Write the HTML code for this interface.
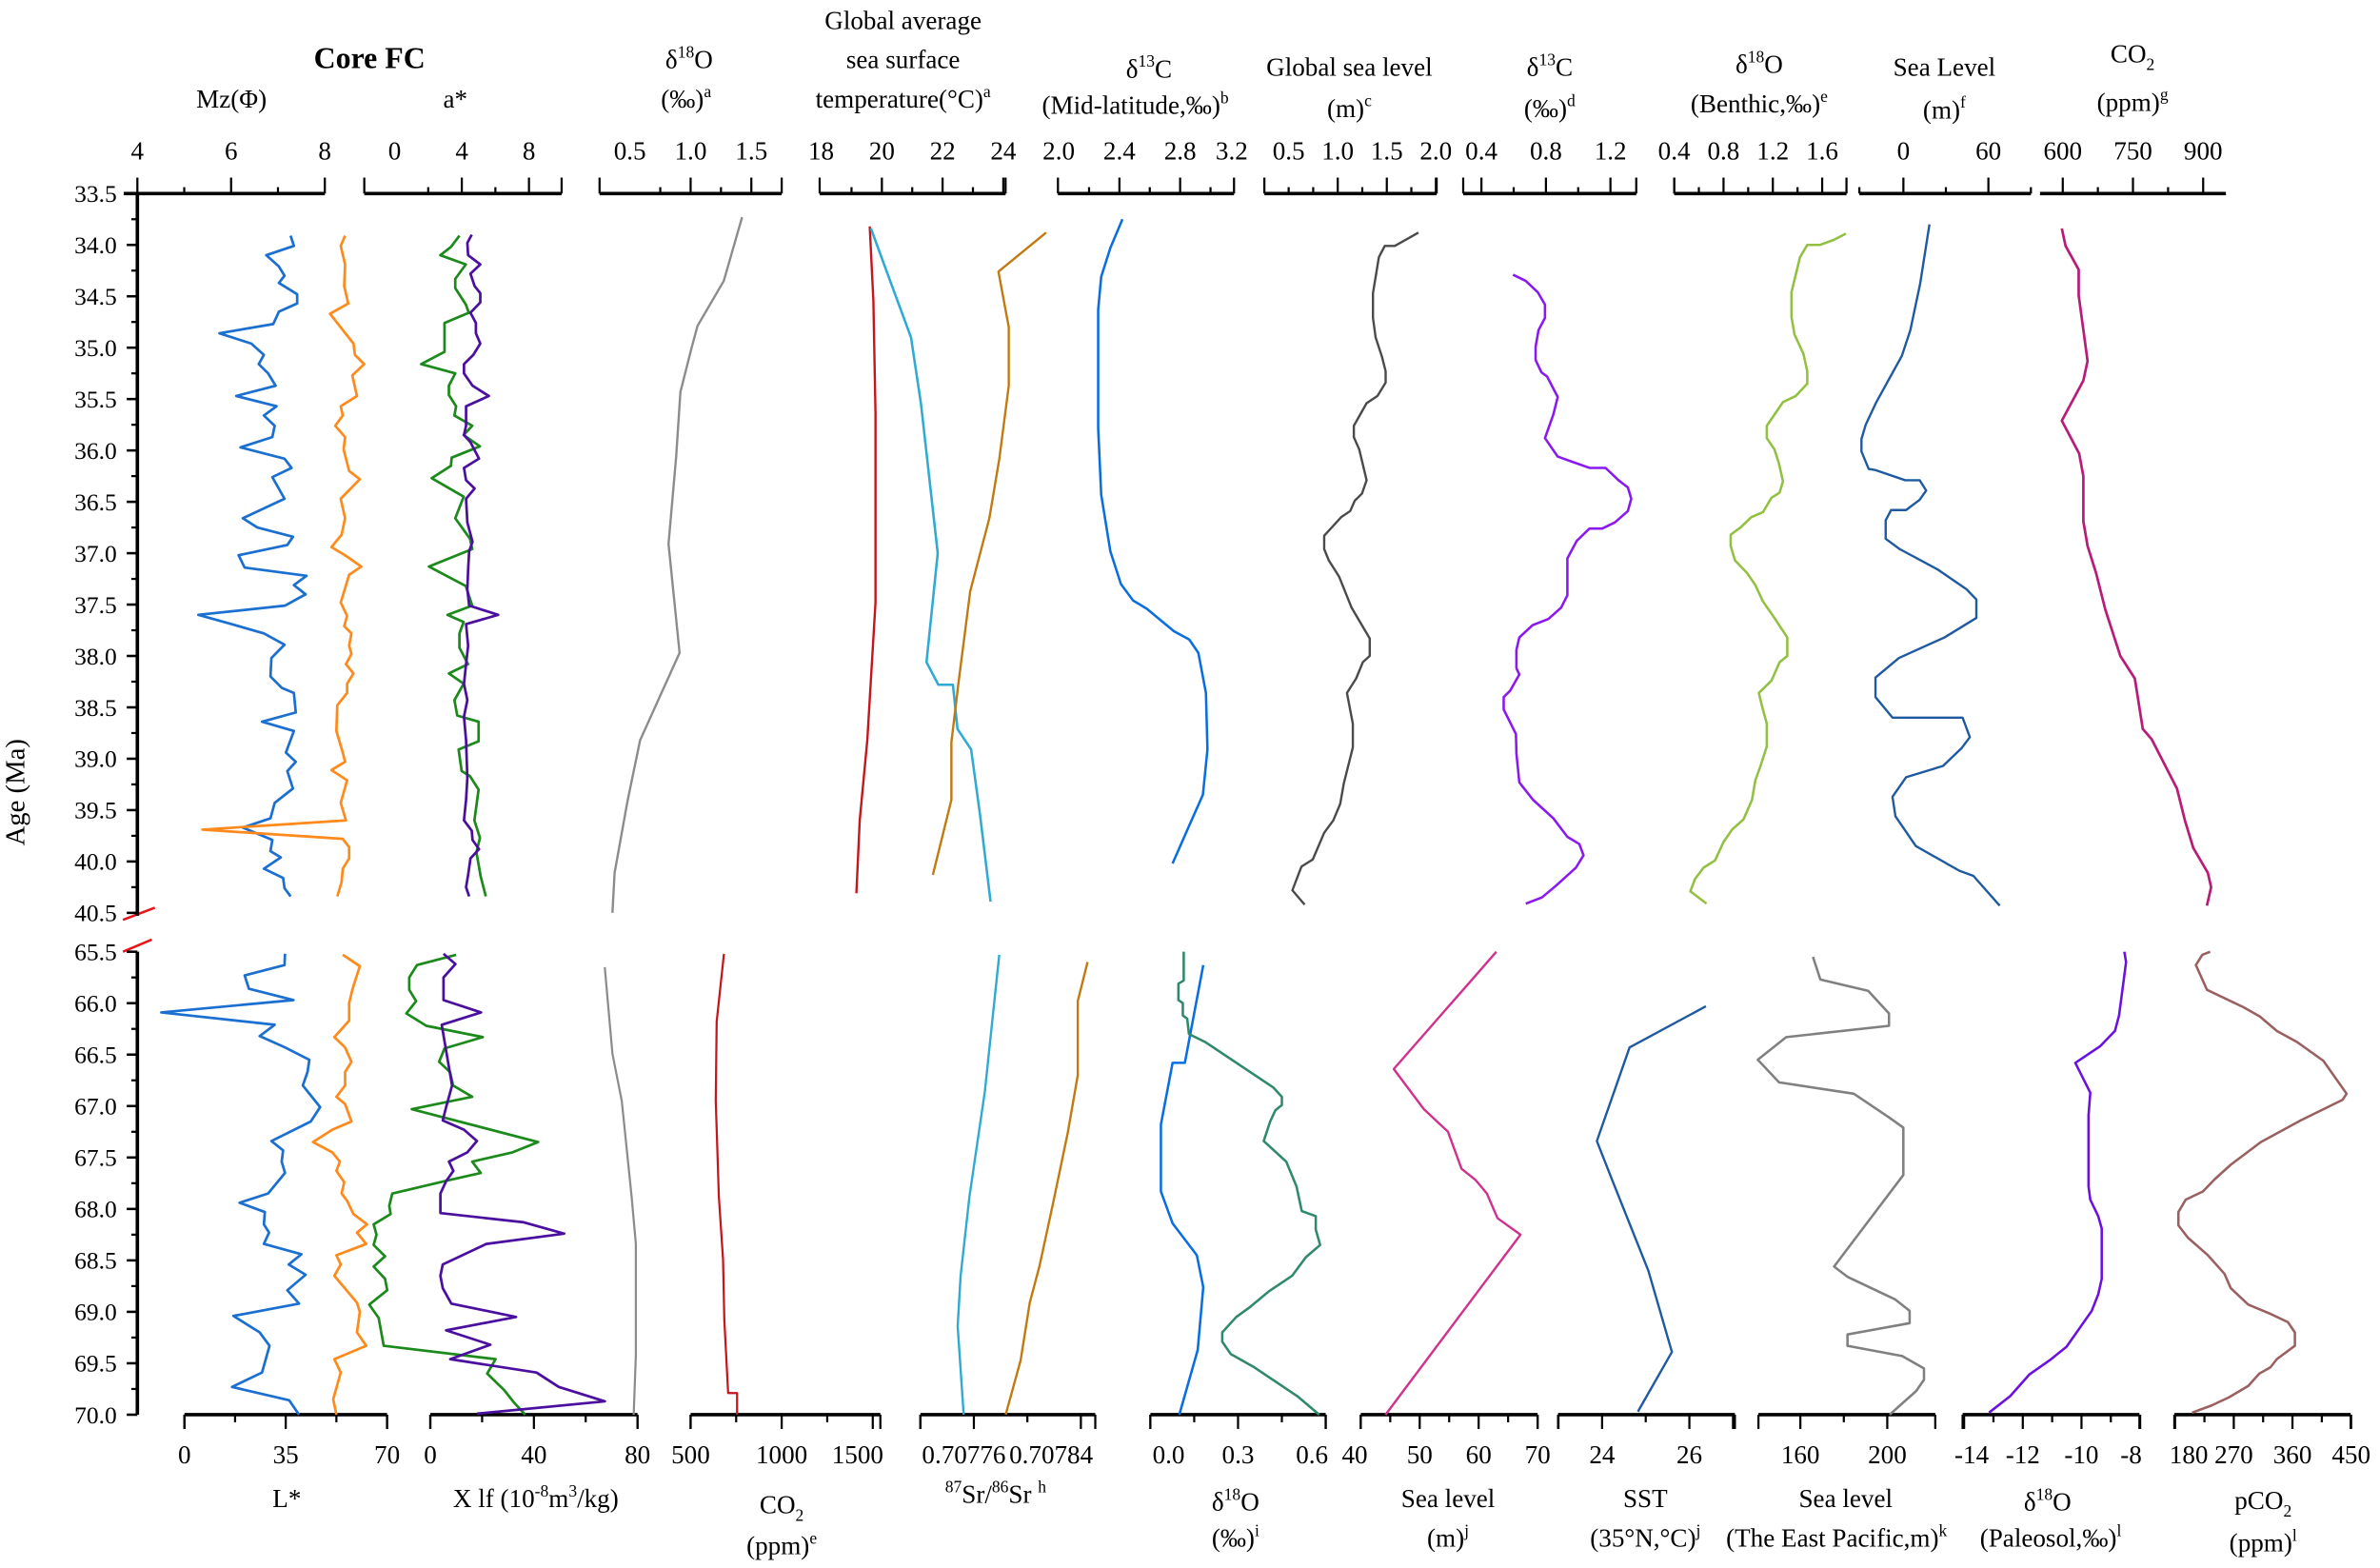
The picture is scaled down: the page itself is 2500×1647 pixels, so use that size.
<!DOCTYPE html>
<html><head><meta charset="utf-8"><title>Core FC multi-proxy chart</title>
<style>
html,body{margin:0;padding:0;background:#fff;}
svg{display:block;}
text{font-family:"Liberation Serif",serif;fill:#000;}
</style></head>
<body>
<svg id="chart" xmlns="http://www.w3.org/2000/svg" width="2500" height="1647" viewBox="0 0 1568 1033">
<rect x="0" y="0" width="1568" height="1033" fill="#fff"/>
<g id="titles" font-size="17" text-anchor="middle">
  <text x="243.5" y="45" font-size="20" font-weight="bold">Core FC</text>
  <text x="152.5" y="71">Mz(Φ)</text>
  <text x="300" y="71">a*</text>
  <text x="454" y="45">δ<tspan font-size="11" dy="-7">18</tspan><tspan dy="7">O</tspan></text>
  <text x="452" y="71">(‰)<tspan font-size="11" dy="-7">a</tspan></text>
  <text x="595" y="19">Global average</text>
  <text x="595" y="45">sea surface</text>
  <text x="595" y="71">temperature(°C)<tspan font-size="11" dy="-7">a</tspan></text>
  <text x="757" y="51">δ<tspan font-size="11" dy="-7">13</tspan><tspan dy="7">C</tspan></text>
  <text x="748" y="75">(Mid-latitude,‰)<tspan font-size="11" dy="-7">b</tspan></text>
  <text x="889" y="50">Global sea level</text>
  <text x="889" y="77">(m)<tspan font-size="11" dy="-7">c</tspan></text>
  <text x="1021" y="50">δ<tspan font-size="11" dy="-7">13</tspan><tspan dy="7">C</tspan></text>
  <text x="1021" y="77">(‰)<tspan font-size="11" dy="-7">d</tspan></text>
  <text x="1159" y="48">δ<tspan font-size="11" dy="-7">18</tspan><tspan dy="7">O</tspan></text>
  <text x="1159" y="74">(Benthic,‰)<tspan font-size="11" dy="-7">e</tspan></text>
  <text x="1281" y="50">Sea Level</text>
  <text x="1281" y="78">(m)<tspan font-size="11" dy="-7">f</tspan></text>
  <text x="1405" y="41">CO<tspan font-size="11" dy="5">2</tspan></text>
  <text x="1405" y="73">(ppm)<tspan font-size="11" dy="-7">g</tspan></text>

  <text x="189" y="993">L*</text>
  <text x="353" y="993">X lf (10<tspan font-size="11" dy="-7">-8</tspan><tspan dy="7">m</tspan><tspan font-size="11" dy="-7">3</tspan><tspan dy="7">/kg)</tspan></text>
  <text x="515" y="997">CO<tspan font-size="11" dy="5">2</tspan></text>
  <text x="515" y="1024">(ppm)<tspan font-size="11" dy="-7">e</tspan></text>
  <text x="656" y="990"><tspan font-size="11" dy="-7">87</tspan><tspan dy="7">Sr/</tspan><tspan font-size="11" dy="-7">86</tspan><tspan dy="7">Sr </tspan><tspan font-size="11" dy="-7">h</tspan></text>
  <text x="814" y="995">δ<tspan font-size="11" dy="-7">18</tspan><tspan dy="7">O</tspan></text>
  <text x="814" y="1019">(‰)<tspan font-size="11" dy="-7">i</tspan></text>
  <text x="954" y="993">Sea level</text>
  <text x="954" y="1019">(m)<tspan font-size="11" dy="-7">j</tspan></text>
  <text x="1084" y="993">SST</text>
  <text x="1084" y="1019">(35°N,°C)<tspan font-size="11" dy="-7">j</tspan></text>
  <text x="1216" y="993">Sea level</text>
  <text x="1210" y="1019">(The East Pacific,m)<tspan font-size="11" dy="-7">k</tspan></text>
  <text x="1349" y="995">δ<tspan font-size="11" dy="-7">18</tspan><tspan dy="7">O</tspan></text>
  <text x="1351" y="1019">(Paleosol,‰)<tspan font-size="11" dy="-7">l</tspan></text>
  <text x="1491" y="994">pCO<tspan font-size="11" dy="5">2</tspan></text>
  <text x="1491" y="1022">(ppm)<tspan font-size="11" dy="-7">l</tspan></text>
</g>
<text x="0" y="0" font-size="18" text-anchor="middle" transform="translate(16,522) rotate(-90)">Age (Ma)</text>
<line x1="81" y1="606" x2="102" y2="598" stroke="#e8141c" stroke-width="1.6"/>
<line x1="81" y1="627" x2="100" y2="619" stroke="#e8141c" stroke-width="1.6"/>
<g id="axes"></g>
<g id="series"></g>
</svg>
<script>
// ===== upper section data (33.5-40.5 Ma) =====
const mzUAge=[33.91,34.01,34.10,34.21,34.30,34.37,34.48,34.57,34.65,34.77,34.86,34.96,35.07,35.16,35.25,35.37,35.47,35.57,35.66,35.76,35.87,35.97,36.08,36.17,36.26,36.47,36.66,36.75,36.84,36.92,37.02,37.14,37.22,37.31,37.40,37.51,37.60,37.68,37.78,37.89,38.02,38.20,38.31,38.36,38.55,38.64,38.73,38.94,39.03,39.12,39.29,39.43,39.58,39.67,39.79,39.90,39.96,40.07,40.16,40.26,40.34];
const mzUVal=[7.27,7.34,6.75,7.02,7.14,7.02,7.41,7.41,7.02,6.90,5.75,6.43,6.70,6.59,6.79,6.95,6.11,6.97,6.70,6.93,6.88,6.20,7.14,7.29,6.88,7.14,6.25,6.56,7.32,7.20,6.16,6.29,7.61,7.34,7.59,7.15,5.30,5.93,6.70,7.14,6.86,6.84,7.08,7.34,7.38,6.66,7.34,7.17,7.38,7.20,7.32,6.93,6.84,6.25,6.88,6.84,7.06,6.70,7.11,7.14,7.27];
const lsUAge=[33.91,34.01,34.19,34.40,34.57,34.67,34.96,35.07,35.16,35.27,35.47,35.57,35.66,35.76,35.87,35.99,36.20,36.28,36.47,36.66,36.82,36.94,37.02,37.13,37.21,37.48,37.61,37.71,37.78,37.90,37.98,38.08,38.17,38.27,38.36,38.48,38.73,38.94,39.03,39.11,39.21,39.43,39.60,39.69,39.78,39.86,39.97,40.07,40.20,40.34];
const lsUVal=[55.5,54.0,55.5,55.2,56.6,50.3,58.4,58.9,62.1,58.0,59.6,54.0,54.7,52.1,55.5,55.0,56.9,60.6,54.0,55.5,54.3,50.8,55.5,61.1,56.9,54.0,56.2,55.2,57.7,56.9,57.7,55.8,58.4,56.2,56.2,52.8,52.5,54.7,55.5,50.8,56.2,54.0,55.8,6.2,54.7,56.9,56.9,54.7,54.3,52.8];
const aUAge=[33.91,34.02,34.10,34.19,34.33,34.42,34.58,34.66,34.76,35.04,35.16,35.25,35.37,35.46,35.57,35.66,35.76,35.85,35.96,36.07,36.15,36.27,36.45,36.66,36.86,36.96,37.13,37.32,37.51,37.60,37.67,37.78,37.92,38.08,38.17,38.27,38.43,38.58,38.64,38.83,38.91,39.12,39.17,39.30,39.60,39.77,39.91,40.15,40.34];
const aUVal=[3.86,3.35,2.72,4.24,3.61,3.61,4.24,4.42,2.97,2.97,1.58,3.61,3.23,3.23,3.66,3.56,4.62,4.11,5.08,3.40,3.35,2.21,4.11,3.61,4.49,4.62,2.04,4.24,4.62,3.15,4.11,3.86,3.86,4.37,3.23,4.11,3.56,3.73,5.00,5.00,3.81,3.99,4.49,5.00,4.75,5.08,4.87,5.13,5.43];
const xUAge=[33.90,33.98,34.10,34.19,34.28,34.40,34.47,34.56,34.66,34.76,34.86,34.96,35.07,35.16,35.25,35.37,35.47,35.57,35.76,35.85,35.92,36.08,36.17,36.29,36.37,36.47,36.70,36.89,36.98,37.16,37.35,37.51,37.60,37.69,37.90,38.08,38.27,38.43,38.59,38.82,39.19,39.40,39.60,39.70,39.79,39.88,39.97,40.13,40.25,40.34];
const xUVal=[16.0,14.3,14.6,19.3,15.5,17.1,19.3,19.3,15.5,17.6,17.6,19.3,16.6,13.0,13.0,16.3,22.6,13.8,13.8,13.0,15.5,18.8,13.0,13.8,17.1,13.8,14.3,16.3,15.0,14.6,14.3,15.0,26.2,13.8,14.6,13.8,13.0,14.3,13.0,13.8,14.3,13.8,13.0,16.0,16.3,18.8,15.5,14.6,13.8,15.0];
const d18oAAge=[33.73,34.35,34.79,35.02,35.43,36.06,36.91,37.97,38.82,39.42,40.11,40.50];
const d18oAVal=[1.424,1.273,1.056,1.004,0.916,0.881,0.818,0.909,0.584,0.479,0.374,0.356];
const sstRedAge=[33.82,34.54,35.64,37.48,38.82,39.60,40.31];
const sstRedVal=[19.60,19.72,19.79,19.79,19.52,19.27,19.16];
const sstCyanAge=[33.84,34.26,34.90,35.55,37.00,38.06,38.28,38.28,38.71,38.91,39.56,40.39];
const sstCyanVal=[19.64,20.16,20.96,21.29,21.84,21.47,21.86,22.34,22.49,22.94,23.24,23.58];
const sstBrownAge=[33.88,34.26,34.80,35.37,36.08,36.66,37.37,38.27,38.84,39.40,40.13];
const sstBrownVal=[25.41,23.84,24.18,24.18,23.87,23.54,22.91,22.52,22.29,22.29,21.68];
const d13cBAge=[33.75,34.03,34.31,34.63,35.78,36.43,36.98,37.30,37.46,37.54,37.76,37.84,37.97,38.36,38.91,39.35,39.65,40.02];
const d13cBVal=[2.42,2.34,2.28,2.26,2.26,2.28,2.34,2.41,2.49,2.58,2.76,2.86,2.92,2.97,2.98,2.95,2.86,2.75];
const gslAge=[33.88,33.94,34.01,34.01,34.12,34.47,34.71,34.90,35.09,35.23,35.34,35.47,35.54,35.76,35.87,35.99,36.29,36.42,36.49,36.59,36.65,36.83,36.96,37.07,37.23,37.53,37.83,38.00,38.06,38.22,38.36,38.66,38.89,39.24,39.44,39.60,39.72,39.98,40.05,40.28,40.42];
const gslVal=[1.822,1.711,1.581,1.479,1.419,1.359,1.359,1.386,1.451,1.488,1.488,1.405,1.294,1.164,1.164,1.219,1.294,1.247,1.173,1.127,1.034,0.862,0.862,0.909,1.015,1.141,1.326,1.326,1.256,1.187,1.094,1.154,1.154,1.062,1.025,0.955,0.862,0.746,0.630,0.538,0.663];
const d13cDAge=[34.29,34.35,34.46,34.58,34.71,34.83,34.99,35.12,35.24,35.28,35.48,35.65,35.88,36.06,36.17,36.17,36.29,36.36,36.47,36.59,36.70,36.76,36.76,36.88,37.05,37.41,37.53,37.64,37.70,37.82,37.94,38.12,38.18,38.34,38.40,38.52,38.76,38.95,39.23,39.40,39.58,39.76,39.83,39.94,40.06,40.24,40.35,40.41];
const d13cDVal=[0.596,0.675,0.749,0.794,0.794,0.754,0.736,0.736,0.772,0.807,0.873,0.846,0.794,0.873,1.070,1.170,1.250,1.308,1.329,1.308,1.228,1.149,1.070,0.991,0.933,0.933,0.894,0.815,0.717,0.635,0.617,0.617,0.635,0.577,0.538,0.538,0.614,0.617,0.635,0.720,0.846,0.933,1.007,1.033,0.986,0.859,0.775,0.675];
const bentAge=[33.89,33.95,34.00,34.00,34.12,34.46,34.70,34.87,35.06,35.23,35.35,35.47,35.53,35.76,35.88,35.99,36.12,36.30,36.41,36.46,36.60,36.65,36.75,36.82,36.93,37.07,37.19,37.31,37.47,37.60,37.82,38.00,38.06,38.24,38.36,38.51,38.66,38.88,39.07,39.21,39.40,39.59,39.69,39.81,39.99,40.06,40.17,40.29,40.41];
const bentVal=[1.792,1.696,1.582,1.479,1.420,1.351,1.351,1.375,1.448,1.479,1.479,1.386,1.282,1.151,1.151,1.213,1.248,1.282,1.255,1.189,1.120,1.024,0.938,0.858,0.858,0.893,0.989,1.058,1.120,1.196,1.317,1.317,1.255,1.189,1.086,1.117,1.151,1.151,1.100,1.058,1.031,0.962,0.869,0.800,0.731,0.638,0.569,0.531,0.662];
const slFAge=[33.80,34.38,34.83,35.08,35.53,35.75,35.89,36.01,36.18,36.19,36.29,36.29,36.39,36.48,36.58,36.58,36.68,36.86,36.96,37.16,37.35,37.45,37.63,37.82,38.02,38.21,38.40,38.60,38.60,38.79,38.90,39.07,39.18,39.37,39.56,39.85,40.09,40.14,40.43];
const slFVal=[18.4,11.8,4.9,-1.1,-19.1,-26.6,-29.6,-29.6,-24.5,-20.0,1.3,11.5,16.1,11.5,1.9,-8.7,-12.5,-12.5,-2.6,24.4,44.5,51.5,51.5,29.0,-3.2,-19.7,-19.7,-7.7,41.8,46.9,40.9,28.0,1.9,-7.7,-5.6,8.8,39.5,49.4,68.0];
const co2GAge=[33.84,34.01,34.24,34.49,35.13,35.32,35.71,36.03,36.25,36.69,36.93,37.19,37.55,38.00,38.22,38.71,38.81,39.29,39.60,39.87,40.11,40.25,40.43];
const co2GVal=[598,606,634,634,653,644,598,635,644,644,653,671,691,723,754,771,790,844,861,879,910,917,908];

// ===== lower section data (65.5-70.0 Ma) =====
const mzLAge=[65.52,65.63,65.73,65.86,65.97,66.09,66.21,66.32,66.43,66.55,66.67,66.80,67.01,67.15,67.34,67.43,67.54,67.65,67.85,67.94,68.03,68.15,68.23,68.34,68.44,68.54,68.64,68.79,68.92,69.04,69.20,69.33,69.59,69.73,69.86,70.0];
const mzLVal=[7.15,7.14,6.29,6.38,7.33,4.51,6.93,6.61,7.15,7.67,7.63,7.53,7.90,7.70,6.86,7.11,7.08,7.15,6.79,6.18,6.72,6.70,6.81,6.70,7.50,7.23,7.59,7.20,7.45,6.05,6.61,6.82,6.66,6.02,7.24,7.45];
const lsLAge=[65.53,65.64,65.86,66.00,66.17,66.33,66.43,66.57,66.67,66.80,66.91,66.98,67.15,67.23,67.35,67.45,67.54,67.63,67.74,67.85,67.92,68.05,68.15,68.23,68.34,68.45,68.54,68.65,68.91,69.00,69.20,69.33,69.46,69.59,69.85,70.0];
const lsLVal=[54.7,60.6,58.1,56.9,56.9,51.8,55.5,57.7,55.5,55.5,52.5,55.5,57.7,51.1,44.4,51.1,53.7,52.5,55.2,54.3,56.2,58.4,63.1,59.6,62.8,52.5,54.0,51.8,59.6,60.6,59.6,62.8,51.8,54.0,51.4,52.5];
const aLAge=[65.53,65.63,65.75,65.87,65.98,66.10,66.22,66.33,66.44,66.57,66.67,66.80,66.91,67.03,67.35,67.45,67.54,67.65,67.73,67.85,67.97,68.05,68.15,68.25,68.35,68.46,68.56,68.68,68.79,68.93,69.06,69.33,69.46,69.60,69.76,69.88,70.0];
const aLVal=[3.66,1.33,0.87,0.87,1.28,0.70,1.89,5.25,2.97,2.65,3.30,3.48,4.62,1.02,8.54,7.02,4.62,5.13,2.97,-0.14,-0.32,-0.24,-1.25,-1.08,-1.25,-0.57,-1.25,-0.57,-0.44,-1.51,-0.95,-0.65,6.01,5.51,6.52,7.10,7.78];
const xLAge=[65.52,65.62,65.75,65.97,66.09,66.21,66.55,66.80,67.01,67.14,67.23,67.34,67.45,67.54,67.63,67.73,67.85,68.04,68.13,68.24,68.34,68.54,68.65,68.77,68.92,69.05,69.18,69.32,69.46,69.59,69.73,69.87,69.99];
const xLVal=[5.1,9.7,5.1,5.1,19.6,4.4,6.7,8.4,6.1,4.8,13.0,18.0,14.3,7.2,8.9,6.1,3.9,3.9,36.1,51.7,21.6,4.8,3.9,4.8,8.1,33.1,6.1,23.2,7.7,41.0,49.6,67.4,18.0];
const d18oALAge=[65.65,66.49,66.95,67.88,68.34,69.42,70.0];
const d18oALVal=[0.293,0.356,0.433,0.514,0.549,0.549,0.531];
const co2EAge=[65.52,66.18,66.95,67.88,68.49,69.08,69.79,69.79,70.0];
const co2EVal=[683,643,638,655,678,685,706,755,755];
const srCyanAge=[65.53,66.86,67.88,68.65,69.14,70.0];
const srCyanVal=[0.7077790,0.7077682,0.7077567,0.7077501,0.7077479,0.7077524];
const srBrownAge=[65.60,65.98,66.70,67.26,67.97,68.56,68.91,69.47,70.0];
const srBrownVal=[0.7078450,0.7078377,0.7078377,0.7078302,0.7078188,0.7078090,0.7078018,0.7077950,0.7077838];
const d18oIBlueAge=[65.63,66.58,66.58,67.18,67.83,68.14,68.45,68.76,69.37,70.0];
const d18oIBlueVal=[0.181,0.118,0.076,0.036,0.036,0.076,0.159,0.181,0.162,0.099];
const d18oIGreenAge=[65.50,65.78,65.81,65.97,66.00,66.12,66.15,66.30,66.38,66.82,66.91,66.99,67.04,67.15,67.34,67.54,67.78,68.02,68.07,68.20,68.35,68.47,68.65,68.80,68.96,69.05,69.20,69.29,69.41,69.54,69.82,70.0];
const d18oIGreenVal=[0.114,0.114,0.096,0.096,0.111,0.111,0.126,0.132,0.189,0.421,0.450,0.450,0.428,0.410,0.388,0.465,0.500,0.518,0.566,0.566,0.581,0.532,0.485,0.406,0.338,0.294,0.246,0.246,0.275,0.356,0.503,0.578];
const slJAge=[65.50,65.73,66.64,67.03,67.25,67.61,67.72,67.85,68.09,68.25,68.83,70.0];
const slJVal=[63.0,59.5,45.6,50.7,54.8,57.1,59.5,61.4,63.2,67.1,59.5,44.2];
const sstJAge=[66.03,66.43,67.34,67.75,68.60,69.39,69.97];
const sstJVal=[26.38,24.63,23.88,24.26,25.06,25.60,24.82];
const slKAge=[65.55,65.77,65.88,66.10,66.22,66.33,66.55,66.77,66.88,67.11,67.21,67.67,68.56,68.66,68.88,68.99,69.11,69.22,69.33,69.43,69.55,69.66,69.77,70.0];
const slKVal=[165.8,169.2,191.2,200.8,200.8,153.5,140.4,150.2,184.6,200.8,207.4,207.4,175.5,181.7,203.7,210.3,210.3,181.7,181.7,206.9,216.9,216.9,213.3,201.1];
const d18oLAge=[65.50,65.60,66.12,66.27,66.42,66.58,66.87,67.09,67.78,67.91,68.07,68.19,68.68,68.83,68.99,69.34,69.47,69.61,69.82,69.98];
const d18oLVal=[-8.54,-8.48,-8.72,-8.86,-9.37,-10.21,-9.70,-9.76,-9.76,-9.70,-9.43,-9.31,-9.31,-9.43,-9.65,-10.51,-11.08,-11.78,-12.43,-13.15];
const pco2Age=[65.50,65.53,65.63,65.87,66.04,66.13,66.27,66.38,66.56,66.88,66.94,67.14,67.35,67.57,67.71,67.83,67.91,68.03,68.16,68.28,68.45,68.63,68.77,68.93,69.02,69.10,69.20,69.33,69.46,69.54,69.60,69.72,69.83,69.91,69.98];
const pco2Val=[233.8,221.7,211.9,228.9,285.0,310.1,336.0,367.6,407.4,443.0,436.8,372.5,311.5,265.4,241.0,222.6,196.3,185.1,185.1,199.8,230.3,255.7,265.4,292.2,326.2,353.0,363.7,363.7,336.0,326.2,309.2,292.2,262.9,236.1,206.1];

// ===== tick labels =====
const yUpperTicks=[33.5,34.0,34.5,35.0,35.5,36.0,36.5,37.0,37.5,38.0,38.5,39.0,39.5,40.0,40.5];
const yLowerTicks=[65.5,66.0,66.5,67.0,67.5,68.0,68.5,69.0,69.5,70.0];

// ===== layout / scales =====
const NS='http://www.w3.org/2000/svg';
const TOP_Y=127.5, BOT_Y=932, AXIS_X=90.5;
function yU(a){return TOP_Y+(a-33.5)*67.7;}
function yL(a){return 627+(a-65.5)*67.78;}
function lin(d0,p0,d1,p1){return v=>p0+(v-d0)*(p1-p0)/(d1-d0);}

const topAxes={
  mz:{name:'mz-axis',line:[81.5,214],s:lin(4,90.5,8,214),major:[4,6,8],minor:[5,7],labels:[4,6,8],fmt:0,caps:false},
  astar:{name:'a-star-axis',line:[240,370],s:lin(0,260,8,348.5),major:[4,8],minor:[2,6],labels:[0,4,8],fmt:0,caps:true},
  d18oA:{name:'d18o-a-axis',line:[395,515],s:lin(0.5,415,1.5,495),major:[1.0,1.5],minor:[0.75,1.25],labels:[0.5,1.0,1.5],fmt:1,caps:true},
  sst:{name:'sst-axis',line:[540,662.5],s:lin(18,541,24,661),major:[20,22,24],minor:[19,21,23],labels:[18,20,22,24],fmt:0,caps:true},
  d13cB:{name:'d13c-b-axis',line:[697,813],s:lin(2.0,697.5,3.2,817.5),major:[2.4,2.8],minor:[2.2,2.6,3.0],labels:[2.0,2.4,2.8,3.2],fmt:1,caps:true,shift:[0,0,0,-6]},
  gsl:{name:'global-sea-level-axis',line:[833,946.5],s:lin(0.5,849,2.0,946),major:[1.0,1.5,2.0],minor:[0.5,0.75,1.25,1.75],labels:[0.5,1.0,1.5,2.0],fmt:1,caps:true},
  d13cD:{name:'d13c-d-axis',line:[964,1078],s:lin(0.4,976,1.2,1061),major:[0.4,0.8,1.2],minor:[0.6,1.0],labels:[0.4,0.8,1.2],fmt:1,caps:true},
  bent:{name:'d18o-benthic-axis',line:[1103,1216.5],s:lin(0.4,1103,1.6,1200.5),major:[0.4,0.8,1.2,1.6],minor:[0.6,1.0,1.4],labels:[0.4,0.8,1.2,1.6],fmt:1,caps:true},
  slF:{name:'sea-level-f-axis',line:[1225,1338],s:lin(0,1254,60,1310),major:[0,60],minor:[30],labels:[0,60],fmt:0,caps:true,capSmall:true},
  co2G:{name:'co2-g-axis',line:[1344,1466.5],s:lin(600,1359,900,1451.5),major:[600,750,900],minor:[675,825],labels:[600,750,900],fmt:0,caps:false}
};
const botAxes={
  ls:{name:'l-star-axis',line:[121.5,255],s:lin(0,121.5,70,255),major:[0,35,70],minor:[17.5,52.5],labels:[0,35,70],fmt:0},
  xlf:{name:'xlf-axis',line:[283.5,420],s:lin(0,283.5,80,420),major:[0,40,80],minor:[20,60],labels:[0,40,80],fmt:0},
  co2E:{name:'co2-e-axis',line:[455,580],s:lin(500,455,1500,575),major:[500,1000,1500],minor:[750,1250],labels:[500,1000,1500],fmt:0,shift:[0,0,-10]},
  sr:{name:'sr-axis',line:[606.4,721.6],s:lin(0.70776,641.6,0.70784,712.1),major:[0.70772,0.70776,0.70784],minor:[0.70780],labels:[0.70776,0.70784],fmt:5,shift:[-6.6,-19.6],capEnd:true},
  d18oI:{name:'d18o-i-axis',line:[757.9,873.4],s:lin(0,757.9,0.6,873.4),major:[0,0.3,0.6],minor:[0.15,0.45],labels:[0,0.3,0.6],fmt:1,shift:[12,0,-9]},
  slJ:{name:'sea-level-j-axis',line:[896.5,1013],s:lin(40,896.5,70,1013),major:[40,50,60,70],minor:[45,55,65],labels:[40,50,60,70],fmt:0,shift:[-4,0,0,0]},
  sstJ:{name:'sst-j-axis',line:[1026.5,1143],s:lin(23,1026.75,27,1141.75),major:[23,24,26,27],minor:[25],labels:[24,26],fmt:0},
  slK:{name:'sea-level-k-axis',line:[1158.5,1275],s:lin(140,1157.5,220,1272),major:[160,200],minor:[180],labels:[160,200],fmt:0},
  d18oL:{name:'d18o-l-axis',line:[1293,1409.5],s:lin(-14,1294,-8,1410),major:[-14,-12,-10,-8],minor:[-13,-11,-9],labels:[-14,-12,-10,-8],fmt:0,shift:[5,0,0,-6]},
  pco2:{name:'pco2-axis',line:[1432.5,1548.7],s:lin(180,1433,450,1549),major:[180,270,360,450],minor:[225,315,405],labels:[180,270,360,450],fmt:0,shift:[9,0,0,0]}
};

const axesG=document.getElementById('axes');
const seriesG=document.getElementById('series');

function addLine(parent,x1,y1,x2,y2,w,name){
  const l=document.createElementNS(NS,'line');
  l.setAttribute('x1',x1);l.setAttribute('y1',y1);l.setAttribute('x2',x2);l.setAttribute('y2',y2);
  l.setAttribute('stroke','#000');l.setAttribute('stroke-width',w);
  
  
  parent.appendChild(l);
  return l;
}
function addText(parent,x,y,str,anchor,size,name){
  const t=document.createElementNS(NS,'text');
  t.setAttribute('x',x);t.setAttribute('y',y);
  t.setAttribute('text-anchor',anchor);t.setAttribute('font-size',size);
  t.textContent=str;
  
  
  parent.appendChild(t);
  return t;
}

function drawAxis(ax,y,dir,labelY){
  const g=document.createElementNS(NS,'g');
  
  
  axesG.appendChild(g);
  addLine(g,ax.line[0],y,ax.line[1],y,2.3,'axis-line');
  const MAJ=dir<0?10.5:9.4, MIN=dir<0?4.2:5;
  if(ax.caps!==false){
    const cl=ax.capSmall?MIN:MAJ;
    addLine(g,ax.line[0],y,ax.line[0],y+dir*cl,1.4,'axis-end-cap');
    addLine(g,ax.line[1],y,ax.line[1],y+dir*cl,1.4,'axis-end-cap');
  }
  ax.major.forEach(v=>{const x=ax.s(v);addLine(g,x,y,x,y+dir*MAJ,1.4,'major-tick');});
  ax.minor.forEach(v=>{const x=ax.s(v);addLine(g,x,y,x,y+dir*MIN,1.4,'minor-tick');});
  ax.labels.forEach((v,i)=>{
    const x=ax.s(v)+(ax.shift?ax.shift[i]:0);
    addText(g,x,labelY,v.toFixed(ax.fmt),'middle',17,'tick-label');
  });
}
Object.values(topAxes).forEach(ax=>drawAxis(ax,TOP_Y,-1,105));
Object.values(botAxes).forEach(ax=>drawAxis(ax,BOT_Y,1,964));

// y axis
const yG=document.createElementNS(NS,'g');


axesG.appendChild(yG);
addLine(yG,AXIS_X,TOP_Y,AXIS_X,yU(40.5)+2,2.3,'y-axis-line-upper');
addLine(yG,AXIS_X,yL(65.5),AXIS_X,BOT_Y,2.3,'y-axis-line-lower');
yUpperTicks.forEach((v,i)=>{
  const y=yU(v);
  addLine(yG,AXIS_X-7,y,AXIS_X,y,1.6,'y-major-tick');
  if(i<yUpperTicks.length-1){const ym=yU(v+0.25);addLine(yG,AXIS_X-4,ym,AXIS_X,ym,1.4,'y-minor-tick');}
  addText(yG,77,y+5.5,v.toFixed(1),'end',16,'y-tick-label');
});
yLowerTicks.forEach((v,i)=>{
  const y=yL(v);
  addLine(yG,AXIS_X-7,y,AXIS_X,y,1.6,'y-major-tick');
  if(i<yLowerTicks.length-1){const ym=yL(v+0.25);addLine(yG,AXIS_X-4,ym,AXIS_X,ym,1.4,'y-minor-tick');}
  addText(yG,77,y+5.5,v.toFixed(1),'end',16,'y-tick-label');
});

function drawSeries(ages,vals,ax,upper,color,width,name){
  const yf=upper?yU:yL;
  const n=Math.min(ages.length,vals.length);
  let d='';
  for(let i=0;i<n;i++){d+=(i?'L':'M')+ax.s(vals[i]).toFixed(2)+','+yf(ages[i]).toFixed(2);}
  const p=document.createElementNS(NS,'path');
  p.setAttribute('d',d);p.setAttribute('fill','none');
  p.setAttribute('stroke',color);p.setAttribute('stroke-width',width);
  p.setAttribute('stroke-linejoin','round');
  
  
  seriesG.appendChild(p);
}
const T=topAxes,B=botAxes;
drawSeries(mzUAge,mzUVal,T.mz,true,'#1a6fd0',1.7,'mz-line-upper');
drawSeries(lsUAge,lsUVal,B.ls,true,'#ff8a1c',1.7,'l-star-line-upper');
drawSeries(aUAge,aUVal,T.astar,true,'#1b8a1b',1.7,'a-star-line-upper');
drawSeries(xUAge,xUVal,B.xlf,true,'#4b0fa0',1.7,'xlf-line-upper');
drawSeries(d18oAAge,d18oAVal,T.d18oA,true,'#8c8c8c',1.5,'d18o-a-line');
drawSeries(sstRedAge,sstRedVal,T.sst,true,'#c4161c',1.5,'co2-e-line-upper');
drawSeries(sstCyanAge,sstCyanVal,T.sst,true,'#2faad2',1.6,'sst-line');
drawSeries(sstBrownAge,sstBrownVal,T.sst,true,'#c07a10',1.5,'sr-line-upper');
drawSeries(d13cBAge,d13cBVal,T.d13cB,true,'#0a6ee0',1.6,'d13c-b-line');
drawSeries(gslAge,gslVal,T.gsl,true,'#4a4a4a',1.5,'global-sea-level-line');
drawSeries(d13cDAge,d13cDVal,T.d13cD,true,'#8a18f0',1.6,'d13c-d-line');
drawSeries(bentAge,bentVal,T.bent,true,'#92c040',1.6,'d18o-benthic-line');
drawSeries(slFAge,slFVal,T.slF,true,'#1f5aa0',1.5,'sea-level-f-line');
drawSeries(co2GAge,co2GVal,T.co2G,true,'#b81c78',1.7,'co2-g-line');

drawSeries(mzLAge,mzLVal,T.mz,false,'#1a6fd0',1.7,'mz-line-lower');
drawSeries(lsLAge,lsLVal,B.ls,false,'#ff8a1c',1.7,'l-star-line-lower');
drawSeries(aLAge,aLVal,T.astar,false,'#1b8a1b',1.7,'a-star-line-lower');
drawSeries(xLAge,xLVal,B.xlf,false,'#4b0fa0',1.7,'xlf-line-lower');
drawSeries(d18oALAge,d18oALVal,T.d18oA,false,'#8c8c8c',1.4,'d18o-a-line-lower');
drawSeries(co2EAge,co2EVal,B.co2E,false,'#c4161c',1.4,'co2-e-line');
drawSeries(srCyanAge,srCyanVal,B.sr,false,'#2faad2',1.5,'sr-cyan-line');
drawSeries(srBrownAge,srBrownVal,B.sr,false,'#c07a10',1.5,'sr-brown-line');
drawSeries(d18oIBlueAge,d18oIBlueVal,B.d18oI,false,'#0a6ee0',1.6,'d18o-i-blue-line');
drawSeries(d18oIGreenAge,d18oIGreenVal,B.d18oI,false,'#2e8a68',1.6,'d18o-i-green-line');
drawSeries(slJAge,slJVal,B.slJ,false,'#d0308e',1.5,'sea-level-j-line');
drawSeries(sstJAge,sstJVal,B.sstJ,false,'#1f5aa0',1.5,'sst-j-line');
drawSeries(slKAge,slKVal,B.slK,false,'#808080',1.6,'sea-level-k-line');
drawSeries(d18oLAge,d18oLVal,B.d18oL,false,'#6a10e0',1.6,'d18o-l-line');
drawSeries(pco2Age,pco2Val,B.pco2,false,'#9a6060',1.6,'pco2-line');
</script>
</body></html>
